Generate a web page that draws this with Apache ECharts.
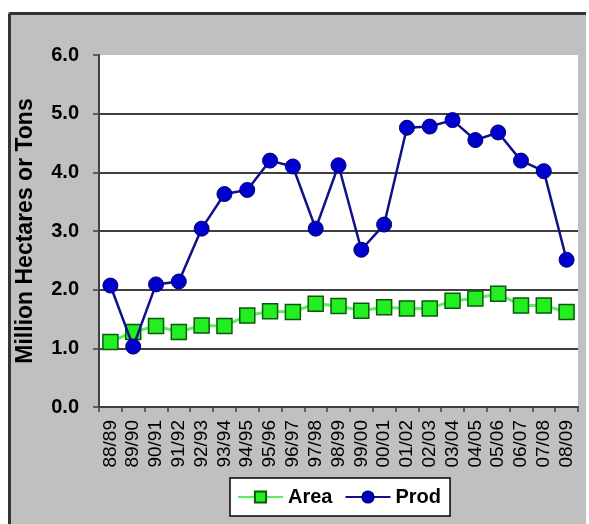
<!DOCTYPE html>
<html>
<head>
<meta charset="utf-8">
<script src="https://cdn.jsdelivr.net/npm/echarts@6/dist/echarts.min.js"></script>
<style>
  html, body { margin: 0; padding: 0; background: #ffffff; }
  #chart { width: 589px; height: 524px; }
</style>
</head>
<body>
<div id="chart"></div>
<script>
// Crop years
const categories = ['88/89','89/90','90/91','91/92','92/93','93/94','94/95','95/96','96/97','97/98',
                    '98/99','99/00','00/01','01/02','02/03','03/04','04/05','05/06','06/07','07/08','08/09'];
// Harvested area, million hectares
const areaValues = [1.11, 1.28, 1.38, 1.28, 1.39, 1.38, 1.56, 1.63, 1.62, 1.76,
                    1.72, 1.64, 1.70, 1.68, 1.68, 1.81, 1.85, 1.93, 1.73, 1.73, 1.62];
// Production, million tons
const prodValues = [2.07, 1.03, 2.09, 2.14, 3.04, 3.63, 3.70, 4.20, 4.10, 3.04,
                    4.12, 2.68, 3.11, 4.76, 4.78, 4.89, 4.55, 4.68, 4.20, 4.02, 2.51];
const seriesNames = ['Area', 'Prod'];
const yAxisTitle = 'Million Hectares or Tons';

const FONT = '"Liberation Sans", Arial, sans-serif';

const chart = echarts.init(document.getElementById('chart'), null, { renderer: 'canvas' });

chart.setOption({
  backgroundColor: '#ffffff',
  animation: false,
  graphic: [
    // grey chart panel with dark frame on the left and top
    { type: 'rect', z: -10, silent: true,
      shape: { x: 8, y: 12, width: 578, height: 520 },
      style: { fill: '#c0c0c0' } },
    { type: 'line', z: -9, silent: true,
      shape: { x1: 9.5, y1: 13.5, x2: 586, y2: 13.5 },
      style: { stroke: '#333333', lineWidth: 3 } },
    { type: 'line', z: -9, silent: true,
      shape: { x1: 9.5, y1: 13.5, x2: 9.5, y2: 524 },
      style: { stroke: '#333333', lineWidth: 3 } }
  ],
  grid: {
    left: 99, top: 55, right: 11, bottom: 117,
    show: true, backgroundColor: '#ffffff', borderWidth: 0,
    containLabel: false
  },
  legend: {
    data: seriesNames,
    left: 230, top: 478,
    orient: 'horizontal',
    backgroundColor: '#ffffff',
    borderColor: '#000000', borderWidth: 1.5,
    padding: [9, 9, 9, 7],
    itemWidth: 45, itemHeight: 14, itemGap: 12,
    textStyle: { fontFamily: FONT, fontWeight: 'bold', fontSize: 20, color: '#000' }
  },
  xAxis: {
    type: 'category',
    data: categories,
    boundaryGap: true,
    axisLine: { show: true, lineStyle: { color: '#404040', width: 2 } },
    axisTick: { show: true, inside: false, length: 5, alignWithLabel: false,
                lineStyle: { color: '#404040', width: 1.5 } },
    axisLabel: { interval: 0, rotate: 90, margin: 13, fontFamily: FONT,
                 fontSize: 19, color: '#000' },
    splitLine: { show: false }
  },
  yAxis: {
    type: 'value',
    min: 0, max: 6, interval: 1,
    name: yAxisTitle,
    nameLocation: 'middle',
    nameRotate: 90,
    nameGap: 62,
    nameTextStyle: { fontFamily: FONT, fontWeight: 'bold', fontSize: 23, color: '#000' },
    axisLine: { show: true, lineStyle: { color: '#404040', width: 2 } },
    axisTick: { show: true, inside: false, length: 6, lineStyle: { color: '#404040', width: 1.5 } },
    axisLabel: { margin: 20, fontFamily: FONT, fontWeight: 'bold', fontSize: 20, color: '#000',
                 formatter: v => v.toFixed(1) },
    splitLine: { show: true,
                 lineStyle: { width: 1.5,
                              color: ['#000000','#000000','#000000','#000000','#000000','#000000','rgba(0,0,0,0)'] } }
  },
  series: [
    {
      name: seriesNames[0],
      type: 'line',
      data: areaValues,
      symbol: 'rect',
      symbolSize: 15,
      lineStyle: { color: '#5cef5c', width: 3 },
      itemStyle: { color: '#22ee22', borderColor: '#0a5a0a', borderWidth: 1.5 },
      z: 2
    },
    {
      name: seriesNames[1],
      type: 'line',
      data: prodValues,
      symbol: 'circle',
      symbolSize: 15,
      lineStyle: { color: '#10108a', width: 2.5 },
      itemStyle: { color: '#0000cc', borderColor: '#000070', borderWidth: 1 },
      z: 3
    }
  ]
});
</script>
</body>
</html>
